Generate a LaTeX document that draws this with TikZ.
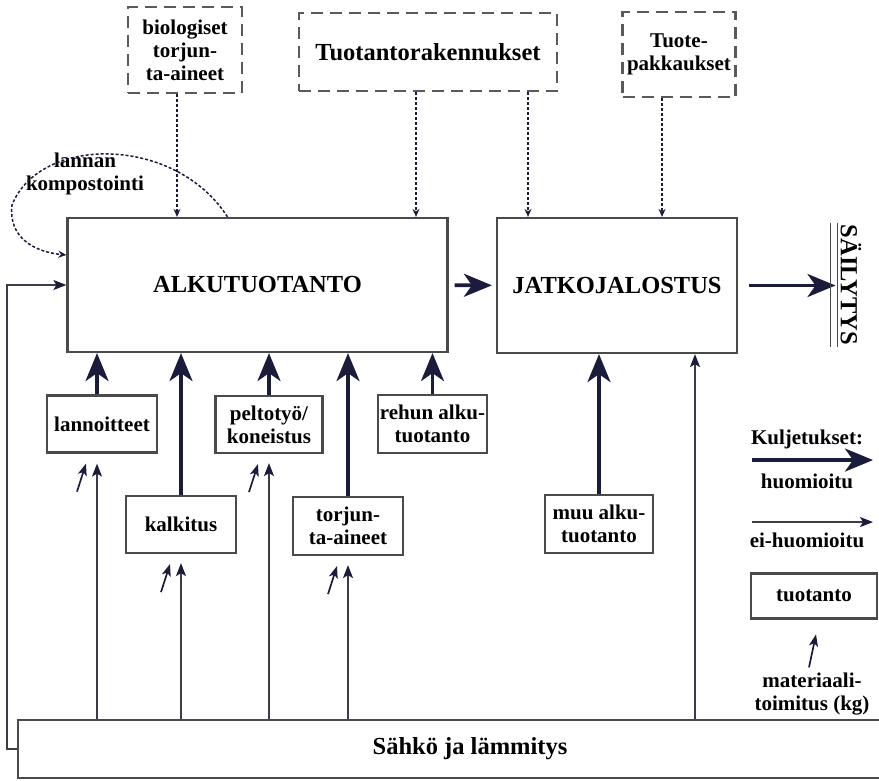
\documentclass[tikz,border=0pt]{standalone}
\usepackage{fontspec}
\setmainfont{Liberation Serif}
\usepackage{tikz}
\usetikzlibrary{arrows.meta}
\definecolor{flowink}{HTML}{1B1B3C}
\definecolor{boxgray}{HTML}{4A4A4A}
\definecolor{dashgray}{HTML}{5A5A5A}
\definecolor{wireink}{HTML}{3C3C46}

\begin{document}
\begin{tikzpicture}[x=1pt,y=-1pt,
  lbl/.style={font=\fontsize{21}{23}\selectfont\bfseries,align=center},
  biglbl/.style={font=\fontsize{24.5}{28}\selectfont\bfseries},
  prod/.style={lbl,draw=boxgray,line width=2.2pt,inner sep=0pt},
  extbox/.style={lbl,draw=dashgray,line width=2.2pt,dash pattern=on 12pt off 7pt,inner sep=0pt},
  bigflow/.style={flowink,line width=3.6pt,-{Stealth[length=28pt,width=23pt,inset=8pt]}},
  wire/.style={wireink,line width=1.7pt,-{Stealth[length=13pt,width=10pt,inset=3pt,color=flowink]}},
  supply/.style={flowink,line width=1.7pt,-{Stealth[length=12pt,width=9pt,inset=3pt]}},
  outside/.style={flowink,line width=1.5pt,densely dashed,-{Stealth[length=8pt,width=7pt]}}]
  \useasboundingbox (0,0) rectangle (879,781);

  % stages
  \node[prod,biglbl,minimum width=380pt,minimum height=134pt] (alku) at (257.5,285) {ALKUTUOTANTO};
  \node[prod,biglbl,minimum width=240pt,minimum height=135pt] (jatko) at (617,285.5) {JATKOJALOSTUS};
  \node[biglbl,rotate=-90,inner sep=0pt] (sail) at (851,285) {SÄILYTYS};
  \node[prod,biglbl,minimum width=904pt,minimum height=58pt] (sahko) at (470,749) {Sähkö ja lämmitys};

  % outside inputs
  \node[extbox,minimum width=114pt,minimum height=86pt] (bio) at (185,50) {biologiset\\torjun-\\ta-aineet};
  \node[extbox,biglbl,minimum width=258pt,minimum height=78pt] (rak) at (428,52) {Tuotantorakennukset};
  \node[extbox,minimum width=113pt,minimum height=85pt] (pakk) at (679,54.5) {Tuote-\\pakkaukset};
  \node[lbl] (komp) at (85,174) {lannan\\kompostointi};

  % production inputs
  \node[prod,minimum width=110pt,minimum height=57pt] (lann) at (102,424) {lannoitteet};
  \node[prod,minimum width=110pt,minimum height=57pt] (kalk) at (181,524.5) {kalkitus};
  \node[prod,minimum width=107pt,minimum height=57pt] (pelto) at (269,424.5) {peltotyö/\\koneistus};
  \node[prod,minimum width=110pt,minimum height=58pt] (torj) at (348,526) {torjun-\\ta-aineet};
  \node[prod,minimum width=109pt,minimum height=58pt] (rehu) at (432.5,424) {rehun alku-\\tuotanto};
  \node[prod,minimum width=108pt,minimum height=58pt] (muu) at (599,524) {muu alku-\\tuotanto};

  % legend
  \node[lbl] (kulj) at (807,439) {Kuljetukset:};
  \node[lbl] (huom) at (807,481) {huomioitu};
  \node[lbl] (eihuom) at (807,540) {ei-huomioitu};
  \node[prod,minimum width=126pt,minimum height=45pt] (tuot) at (814,596) {tuotanto};
  \node[lbl] (mat) at (812,694) {materiaali-\\toimitus (kg)};

  % main flow
  \draw[bigflow,shorten <=6pt,shorten >=4pt] (alku) -- (jatko);
  \draw[bigflow,shorten <=11pt,shorten >=5pt] (jatko.east) -- (jatko.east -| sail.south);
  \draw[boxgray,line width=1.8pt] ([xshift=-3pt,yshift=2pt]sail.south west) -- ([xshift=-3pt,yshift=-2pt]sail.south east);
  \draw[boxgray,line width=1.8pt] ([xshift=-10pt,yshift=2pt]sail.south west) -- ([xshift=-10pt,yshift=-2pt]sail.south east);

  \draw[bigflow] ([xshift=-5pt]lann.north) -- ([xshift=-5pt]lann.north |- alku.south);
  \foreach \b in {kalk,pelto,torj,rehu}
    \draw[bigflow] (\b.north) -- (\b.north |- alku.south);
  \draw[bigflow] (muu.north) -- (muu.north |- jatko.south);

  % energy
  \draw[wire] ([xshift=-5pt]lann.south |- sahko.north) -- ([xshift=-5pt,yshift=-10pt]lann.south);
  \foreach \b in {kalk,pelto,torj}
    \draw[wire] (\b.south |- sahko.north) -- ([yshift=-9pt]\b.south);
  \draw[wire] (695,0 |- sahko.north) -- (695,0 |- jatko.south);
  \draw[wire] (sahko.west) -- ++(-10,0) |- (alku.west);

  % material deliveries
  \foreach \b/\dx in {lann/-5,kalk/0,pelto/0,torj/0}
    \draw[supply] ([xshift=\dx pt-20pt,yshift=-38pt]\b.south) -- ++(9,-28);
  \draw[supply] ([xshift=-3pt,yshift=2pt]mat.north) -- ++(7,-33);

  % outside connections
  \draw[outside] ([xshift=-8pt]bio.south) -- ([xshift=-8pt]bio.south |- alku.north);
  \draw[outside] ([xshift=-12pt]rak.south) -- ([xshift=-12pt]rak.south |- alku.north);
  \draw[outside] ([xshift=100pt]rak.south) -- ([xshift=100pt]rak.south |- jatko.north);
  \draw[outside] ([xshift=-17pt]pakk.south) -- ([xshift=-17pt]pakk.south |- jatko.north);
  \draw[outside] ([xshift=-30pt]alku.north) .. controls (175,135) and (40,135) .. (12,205)
    .. controls (8,238) and (35,252) .. ([yshift=30pt]alku.west);

  % legend arrows
  \draw[bigflow] ([xshift=-55pt,yshift=10pt]huom.north) -- ([xshift=66pt,yshift=10pt]huom.north);
  \draw[wire] ([xshift=-55pt,yshift=7pt]eihuom.north) -- ([xshift=66pt,yshift=7pt]eihuom.north);
\end{tikzpicture}
\end{document}
